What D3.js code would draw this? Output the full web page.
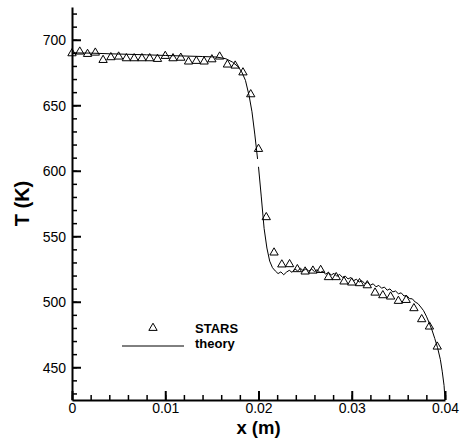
<!DOCTYPE html>
<html><head><meta charset="utf-8">
<script src="https://cdn.jsdelivr.net/npm/d3@7"></script>
<style>body{margin:0;background:#fff}svg{display:block}</style>
</head><body>
<svg id="c" width="461" height="441"></svg>
<script>
// STARS simulation points
const starsX = [0,0.000833,0.001667,0.0025,0.003333,0.004167,0.005,0.005833,0.006667,0.0075,
0.008333,0.009167,0.01,0.010833,0.011667,0.0125,0.013333,0.014167,0.015,0.015833,
0.016667,0.0175,0.018333,0.019167,0.02,0.020833,0.021667,0.0225,0.023333,0.024167,
0.025,0.025833,0.026667,0.0275,0.028333,0.029167,0.03,0.030833,0.031667,0.0325,
0.033333,0.034167,0.035,0.035833,0.036667,0.0375,0.038333,0.039167];
const starsT = [689.6,690.9,689.1,690.1,684.5,686.6,687.1,685.8,685.8,685.8,
685.8,685.3,687.6,685.8,686.2,683.3,683.8,683.3,685.0,687.1,
681.0,680.2,675.0,658.3,616.6,564.5,537.5,528.4,528.6,524.8,
523.0,523.7,524.2,518.7,518.7,515.4,514.6,514.1,512.5,506.9,
504.9,503.9,500.6,501.3,495.0,486.6,481.0,465.7];
// theory curve (null = gap in the drawn line)
const theoryX = [0,0.002,0.004,0.006,0.008,0.010,0.012,0.014,0.0155,0.0165,0.0172,0.0178,0.0182,0.0186,0.0190,0.0193,0.0196,0.0199,
0.01995,0.0200,0.0203,0.0206,0.0209,0.0212,0.0215,0.0218,0.0221,
0.0224,0.0227,0.0230,0.0233,0.0236,0.0239,0.0242,0.0245,0.0248,0.0251,0.0254,0.0257,0.0260,0.0263,0.0266,0.0269,
0.0272,0.0275,0.0278,0.0281,0.0284,0.0287,0.0290,0.0293,0.0296,0.0299,0.0302,0.0305,0.0308,0.0311,0.0314,0.0317,
0.0320,0.0323,0.0326,0.0329,0.0332,0.0335,0.0338,0.0341,0.0344,0.0347,0.0350,0.0353,0.0356,0.0359,0.0362,0.0365,
0.0368,0.0371,0.0374,0.0377,0.0380,0.0383,0.0386,0.0389,0.0392,0.0395,0.0397,0.0399,0.0400];
const theoryT = [690.0,689.8,689.3,688.9,688.5,688.0,687.6,687.2,686.8,685.5,683.0,679.5,675.5,669.0,657.0,645.0,628.0,609.0,
null,603.0,580.0,556.0,541.0,531.0,526.0,523.5,521.5,
522.8,520.6,522.6,524.0,522.4,525.1,523.5,525.5,523.7,525.2,523.4,525.0,523.0,524.5,522.2,523.3,
521.0,522.5,520.4,521.7,519.4,520.9,518.6,519.6,517.4,518.5,516.1,517.2,515.0,516.1,513.8,514.8,
512.7,513.7,511.4,512.5,510.3,511.2,508.8,509.8,507.5,508.2,506.1,506.8,504.4,504.7,502.4,502.2,
499.8,498.6,496.0,493.2,489.0,484.0,478.5,472.0,465.0,456.0,447.0,436.0,425.0];
const xTicks = [0,0.01,0.02,0.03,0.04];
const xTickLabels = ["0","0.01","0.02","0.03","0.04"];
const yTicks = [450,500,550,600,650,700];
const legendLabels = ["STARS","theory"];

const svg = d3.select("#c");
const x = d3.scaleLinear().domain([0,0.04]).range([72,445]);
const y = d3.scaleLinear().domain([425,725]).range([400,7]);
const font = "'Liberation Sans', Arial, Helvetica, sans-serif";

// minor ticks
const xMinor = d3.range(0,0.0401,0.002);
const yMinor = d3.range(430,725,10);
svg.append("g").attr("transform","translate(0,400)")
  .call(d3.axisBottom(x).tickValues(xMinor).tickSize(-5).tickSizeOuter(0).tickFormat(""))
  .call(g=>{g.select(".domain").remove();g.selectAll("line").attr("stroke","#000").attr("stroke-width",1.5);});
svg.append("g").attr("transform","translate(72,0)")
  .call(d3.axisLeft(y).tickValues(yMinor).tickSize(-5).tickSizeOuter(0).tickFormat(""))
  .call(g=>{g.select(".domain").remove();g.selectAll("line").attr("stroke","#000").attr("stroke-width",1.5);});

// major axes
svg.append("g").attr("transform","translate(0,400)")
  .call(d3.axisBottom(x).tickValues(xTicks).tickSize(-9).tickSizeOuter(0).tickPadding(0)
    .tickFormat((d,i)=>xTickLabels[i]))
  .call(g=>{
    g.select(".domain").attr("stroke","#000").attr("stroke-width",2);
    g.selectAll("line").attr("stroke","#000").attr("stroke-width",2);
    g.selectAll("text").attr("y",13).attr("dy",0).attr("font-family",font).attr("font-size",14).attr("fill","#000");
  });
svg.append("g").attr("transform","translate(72,0)")
  .call(d3.axisLeft(y).tickValues(yTicks).tickSize(-9).tickSizeOuter(0).tickPadding(6))
  .call(g=>{
    g.select(".domain").attr("stroke","#000").attr("stroke-width",2);
    g.selectAll("line").attr("stroke","#000").attr("stroke-width",2);
    g.selectAll("text").attr("dy","0.36em").attr("font-family",font).attr("font-size",14).attr("fill","#000");
  });

// titles
svg.append("text").attr("x",258.5).attr("y",433.5).attr("text-anchor","middle")
  .attr("font-family",font).attr("font-size",18.5).attr("font-weight","bold").text("x (m)");
svg.append("text").attr("transform","translate(29,203.5) rotate(-90)").attr("text-anchor","middle")
  .attr("font-family",font).attr("font-size",20).attr("font-weight","bold").text("T (K)");

// theory line
const pts = theoryX.map((v,i)=>[v,theoryT[i]]);
svg.append("path").datum(pts)
  .attr("d",d3.line().defined(d=>d[1]!==null).x(d=>x(d[0])).y(d=>y(d[1])))
  .attr("fill","none").attr("stroke","#000").attr("stroke-width",1);

// STARS markers
const tri = d3.symbol().type(d3.symbolTriangle).size(30);
svg.append("g").selectAll("path").data(starsX.map((v,i)=>[v,starsT[i]])).join("path")
  .attr("transform",d=>`translate(${x(d[0])},${y(d[1])})`)
  .attr("d",tri).attr("fill","none").attr("stroke","#000").attr("stroke-width",1);

// legend
svg.append("path").attr("transform","translate(153,328)").attr("d",tri)
  .attr("fill","none").attr("stroke","#000").attr("stroke-width",1);
svg.append("line").attr("x1",122).attr("x2",184).attr("y1",346).attr("y2",346)
  .attr("stroke","#000").attr("stroke-width",1);
svg.append("text").attr("x",195).attr("y",333).attr("font-family",font).attr("font-size",13)
  .attr("font-weight","bold").text(legendLabels[0]);
svg.append("text").attr("x",195).attr("y",348).attr("font-family",font).attr("font-size",13)
  .attr("font-weight","bold").text(legendLabels[1]);
</script>
</body></html>
